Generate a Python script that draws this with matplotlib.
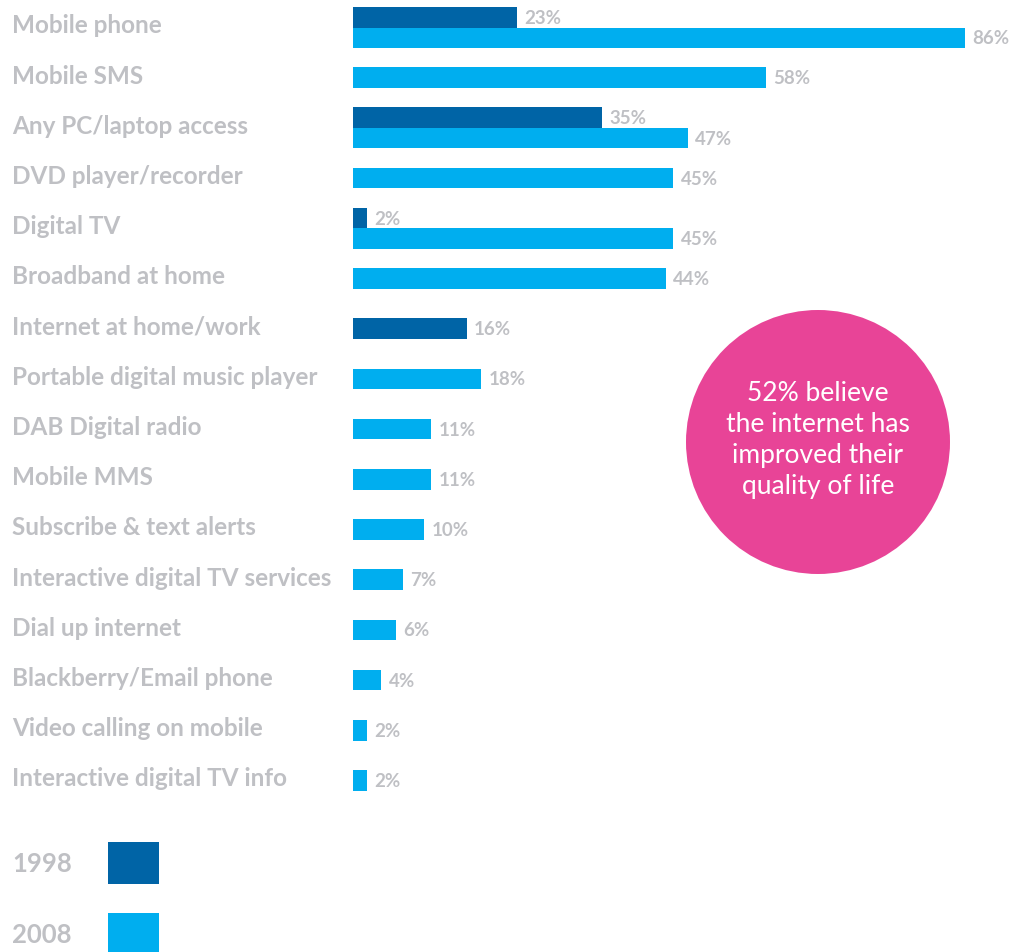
import numpy as np
import matplotlib
matplotlib.use("Agg")
import matplotlib.pyplot as plt
from matplotlib.transforms import blended_transform_factory
from matplotlib.patches import Rectangle, Circle

categories = ['Mobile phone', 'Mobile SMS', 'Any PC/laptop access', 'DVD player/recorder',
              'Digital TV', 'Broadband at home', 'Internet at home/work',
              'Portable digital music player', 'DAB Digital radio', 'Mobile MMS',
              'Subscribe & text alerts', 'Interactive digital TV services',
              'Dial up internet', 'Blackberry/Email phone', 'Video calling on mobile',
              'Interactive digital TV info']
y1998 = [23, None, 35, None, 2, None, 16, None, None, None, None, None, None, None, None, None]
y2008 = [86, 58, 47, 45, 45, 44, None, 18, 11, 11, 10, 7, 6, 4, 2, 2]
years = ['1998', '2008']
note = '52% believe\nthe internet has\nimproved their\nquality of life'

dark = '#0064a6'
light = '#00aeef'
pink = '#e84497'
grey = '#bfc0c4'
font = 'Lato'

W, H = 1012, 953
fig = plt.figure(figsize=(W / 100, H / 100), dpi=100)

# axes: x=0 at pixel 353, 1% ~ 7.12 px ; rows every ~50.2 px
px_per = 7.12
row_px = 50.2
row0 = 28.5
ax = fig.add_axes([353 / W, 0, 1 - 353 / W, 1])
ax.set_xlim(0, (W - 353) / px_per)
ax.set_ylim((H - row0) / row_px, -row0 / row_px)
ax.axis('off')

h = 0.41
for i, (a, b) in enumerate(zip(y1998, y2008)):
    if a is not None and b is not None:
        ya, yb = i - h / 2, i + h / 2
    else:
        ya = yb = i
    if a is not None:
        ax.barh(ya, a, height=h, color=dark, linewidth=0)
        ax.text(a + 1.0, ya, f'{a}%', color=grey, fontsize=13.5, fontweight='bold',
                family=font, va='center', ha='left')
    if b is not None:
        ax.barh(yb, b, height=h, color=light, linewidth=0)
        ax.text(b + 1.0, yb, f'{b}%', color=grey, fontsize=13.5, fontweight='bold',
                family=font, va='center', ha='left')

tr = blended_transform_factory(fig.transFigure, ax.transData)
for i, c in enumerate(categories):
    ax.text(12 / W, i - 0.05, c, transform=tr, color=grey, fontsize=17.5, fontweight='bold',
            family=font, va='center', ha='left')

# pink circle with note
circ = Circle((818, H - 443), 132, transform=None, color=pink, linewidth=0)
fig.patches.append(circ)
fig.text(818 / W, 1 - 440 / H, note, color='white', fontsize=19, family=font,
         ha='center', va='center', linespacing=1.3)

# legend
for k, (lab, col, yc) in enumerate(zip(years, [dark, light], [864, 935])):
    fig.text(12 / W, 1 - yc / H, lab, color=grey, fontsize=18.5, fontweight='bold',
             family=font, ha='left', va='center')
    fig.patches.append(Rectangle((108, H - yc - 21), 51, 42, transform=None,
                                 color=col, linewidth=0))

fig.savefig('out.png', dpi=100)
